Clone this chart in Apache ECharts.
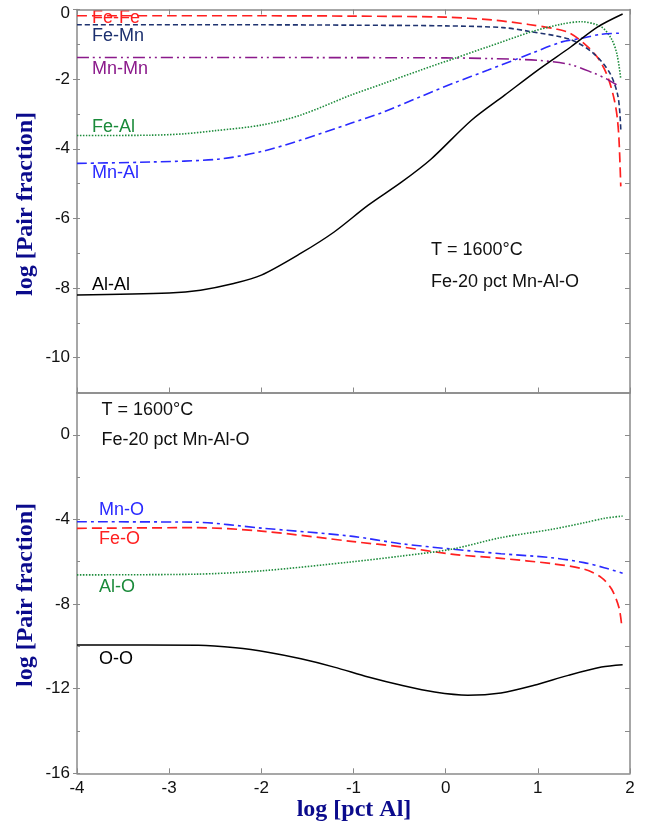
<!DOCTYPE html>
<html>
<head>
<meta charset="utf-8">
<script src="https://cdn.jsdelivr.net/npm/echarts@6/dist/echarts.min.js"></script>
<style>html,body{margin:0;padding:0;background:#fff}#c{width:647px;height:831px}</style>
</head>
<body>
<div id="c"></div>
<script>
// ---- Top panel data (log pct Al vs log pair fraction) ----
const feFeX = [-4, -3, -2, -1, 0, 0.5, 0.9, 1.2, 1.35, 1.5, 1.64, 1.72, 1.78, 1.83, 1.86, 1.88, 1.9];
const feFeY = [-0.18, -0.18, -0.18, -0.19, -0.22, -0.3, -0.43, -0.56, -0.68, -0.97, -1.35, -1.7, -2.1, -2.6, -3.07, -3.7, -5.08];
const feMnX = [-4, -2, -1, 0, 0.62, 0.91, 1.35, 1.6, 1.78, 1.87, 1.9];
const feMnY = [-0.44, -0.44, -0.45, -0.47, -0.52, -0.63, -0.86, -1.25, -1.82, -2.5, -3.45];
const mnMnX = [-4, -2, 0, 0.5, 1.0, 1.35, 1.6, 1.75, 1.89];
const mnMnY = [-1.38, -1.38, -1.39, -1.41, -1.46, -1.58, -1.82, -2.0, -2.22];
const feAlX = [-4, -3.2, -2.84, -2.5, -2, -1.57, -1.03, -0.67, -0.27, 0.1, 0.46, 0.93, 1.26, 1.47, 1.69, 1.8, 1.86, 1.9];
const feAlY = [-3.62, -3.61, -3.57, -3.48, -3.32, -3.03, -2.46, -2.12, -1.74, -1.4, -1.07, -0.64, -0.42, -0.35, -0.5, -0.85, -1.3, -2.0];
const mnAlX = [-4, -3.2, -2.47, -2, -1.57, -1.03, -0.67, -0.27, 0.1, 0.46, 0.93, 1.26, 1.47, 1.69, 1.9];
const mnAlY = [-4.42, -4.38, -4.3, -4.08, -3.75, -3.27, -2.94, -2.5, -2.1, -1.74, -1.26, -0.93, -0.83, -0.71, -0.68];
const alAlX = [-4, -3, -2.66, -2.3, -2, -1.57, -1.21, -0.84, -0.48, -0.16, 0.28, 0.64, 1.0, 1.36, 1.65, 1.92];
const alAlY = [-8.2, -8.14, -8.06, -7.87, -7.63, -7.0, -6.39, -5.62, -4.96, -4.3, -3.18, -2.46, -1.74, -1.07, -0.5, -0.13];

// ---- Bottom panel data ----
const mnOX = [-4, -2.73, -2, -1.03, -0.48, 0.06, 0.6, 1.15, 1.5, 1.72, 1.92];
const mnOY = [-4.11, -4.13, -4.41, -4.79, -5.15, -5.4, -5.62, -5.81, -6.04, -6.28, -6.54];
const feOX = [-4, -2.73, -2, -1.0, -0.48, 0.06, 0.6, 1.15, 1.5, 1.69, 1.8, 1.88, 1.91];
const feOY = [-4.42, -4.39, -4.55, -5.05, -5.3, -5.64, -5.84, -6.09, -6.35, -6.75, -7.29, -8.16, -9.02];
const alOX = [-4, -2.73, -2, -1.03, -0.48, 0.06, 0.6, 1.15, 1.5, 1.72, 1.92];
const alOY = [-6.62, -6.59, -6.43, -6.01, -5.73, -5.41, -4.86, -4.47, -4.16, -3.95, -3.84];
const ooX = [-4, -2.68, -2.28, -1.93, -1.57, -1.21, -0.84, -0.48, -0.12, 0.24, 0.6, 0.96, 1.33, 1.69, 1.92];
const ooY = [-9.93, -9.95, -10.07, -10.28, -10.59, -10.98, -11.45, -11.84, -12.16, -12.31, -12.2, -11.84, -11.37, -10.98, -10.87];

// ---- Tick labels ----
const xTicks = [-4, -3, -2, -1, 0, 1, 2];
const topYLabels = [0, -2, -4, -6, -8, -10];
const topYMinor = [-1, -3, -5, -7, -9];
const topYRight = [-1, -2, -3, -4, -5, -6, -7, -8, -9, -10];
const botYLabels = [0, -4, -8, -12, -16];
const botYMinor = [2, -2, -6, -10, -14];
const botYRight = [0, -2, -4, -6, -8, -10, -12, -14];

const pts = (xs, ys) => xs.map((x, i) => [x, ys[i]]);
const AX = '#8a8a8a';
const LBL = '18px "Liberation Sans", Arial, sans-serif';

function xAx(grid, pos, labels, tickShow) {
  return {
    type: 'value', gridIndex: grid, position: pos, min: -4, max: 2, interval: 1,
    axisLine: {show: true, onZero: false, lineStyle: {color: AX, width: 1.5}},
    axisTick: {show: tickShow, inside: true, length: 5, lineStyle: {color: AX, width: 1}},
    axisLabel: {show: labels, margin: 7, color: '#111', fontSize: 17, fontFamily: '"Liberation Sans", Arial'},
    splitLine: {show: false}
  };
}
function yAx(grid, pos, min, max, labelVals, tickVals, inside, len, showLine, topShift) {
  const lab = {show: !!labelVals, customValues: labelVals || [], margin: 7, color: '#111', fontSize: 17, fontFamily: '"Liberation Sans", Arial'};
  if (topShift) {
    lab.formatter = v => (v === max ? '{t|' + v + '}' : String(v));
    lab.rich = {t: {padding: [7, 0, 0, 0], color: '#111', fontSize: 17, fontFamily: '"Liberation Sans", Arial'}};
  }
  return {
    type: 'value', gridIndex: grid, position: pos, min: min, max: max,
    axisLine: {show: showLine, onZero: false, lineStyle: {color: AX, width: 1.5}},
    axisTick: {show: true, inside: inside, length: len, customValues: tickVals, lineStyle: {color: AX, width: 1}},
    axisLabel: lab,
    splitLine: {show: false}
  };
}
function line(name, xs, ys, xi, yi, color, type, width) {
  return {
    name: name, type: 'line', xAxisIndex: xi, yAxisIndex: yi, data: pts(xs, ys),
    showSymbol: false, smooth: 0.3, clip: true,
    lineStyle: {color: color, width: width || 1.6, type: type}
  };
}

const labelsTop = [
  {t: 'Fe-Fe', x: 92, y: 18, c: '#ff1f1f'},
  {t: 'Fe-Mn', x: 92, y: 36.5, c: '#1b2f6e'},
  {t: 'Mn-Mn', x: 92, y: 69, c: '#8b1a8b'},
  {t: 'Fe-Al', x: 92, y: 127, c: '#1a8a3a'},
  {t: 'Mn-Al', x: 92, y: 173.5, c: '#2a2aff'},
  {t: 'Al-Al', x: 92, y: 285, c: '#000'},
  {t: 'T = 1600°C', x: 431, y: 250.5, c: '#111'},
  {t: 'Fe-20 pct Mn-Al-O', x: 431, y: 282, c: '#111'},
  {t: 'T = 1600°C', x: 101.5, y: 410, c: '#111'},
  {t: 'Fe-20 pct Mn-Al-O', x: 101.5, y: 440.5, c: '#111'},
  {t: 'Mn-O', x: 99, y: 510, c: '#2a2aff'},
  {t: 'Fe-O', x: 99, y: 539.5, c: '#ff1f1f'},
  {t: 'Al-O', x: 99, y: 587, c: '#1a8a3a'},
  {t: 'O-O', x: 99, y: 659, c: '#000'}
];

const graphics = labelsTop.map(l => ({
  type: 'text', x: l.x, y: l.y, silent: true,
  style: {text: l.t, fill: l.c, font: LBL, textAlign: 'left', textVerticalAlign: 'middle'}
}));
const TITLE = 'bold 24px "Liberation Serif", "Times New Roman", serif';
graphics.push({type: 'text', x: 26, y: 204, rotation: Math.PI / 2, silent: true,
  style: {text: 'log [Pair fraction]', fill: '#0b0b8c', font: TITLE, textAlign: 'center', textVerticalAlign: 'middle'}});
graphics.push({type: 'text', x: 26, y: 595, rotation: Math.PI / 2, silent: true,
  style: {text: 'log [Pair fraction]', fill: '#0b0b8c', font: TITLE, textAlign: 'center', textVerticalAlign: 'middle'}});
graphics.push({type: 'text', x: 354, y: 810, silent: true,
  style: {text: 'log [pct Al]', fill: '#0b0b8c', font: TITLE, textAlign: 'center', textVerticalAlign: 'middle'}});

const chart = echarts.init(document.getElementById('c'), null, {renderer: 'canvas'});
chart.setOption({
  animation: false,
  backgroundColor: '#fff',
  grid: [
    {left: 77, right: 17, top: 9.5, height: 383},
    {left: 77, right: 17, top: 392.5, height: 380.8}
  ],
  xAxis: [
    xAx(0, 'bottom', false, true),
    xAx(0, 'top', false, true),
    xAx(1, 'bottom', true, true),
    xAx(1, 'top', false, false)
  ],
  yAxis: [
    yAx(0, 'left', -11, 0, topYLabels, topYLabels, false, 4, true, true),
    yAx(0, 'left', -11, 0, null, topYLabels.concat(topYMinor), true, 3, false),
    yAx(0, 'right', -11, 0, null, topYRight, true, 5, true),
    yAx(1, 'left', -16, 2, botYLabels, botYLabels, false, 4, true),
    yAx(1, 'left', -16, 2, null, botYLabels.concat(botYMinor), true, 3, false),
    yAx(1, 'right', -16, 2, null, botYRight, true, 5, true)
  ],
  series: [
    line('Fe-Fe', feFeX, feFeY, 0, 0, '#ff2020', [10, 5], 1.7),
    line('Fe-Mn', feMnX, feMnY, 0, 0, '#1f3370', [5, 3], 1.6),
    line('Mn-Mn', mnMnX, mnMnY, 0, 0, '#8b1a8b', [12, 4, 2, 4, 2, 4], 1.6),
    line('Fe-Al', feAlX, feAlY, 0, 0, '#1e8c3c', [1.5, 1.5], 1.6),
    line('Mn-Al', mnAlX, mnAlY, 0, 0, '#2a2aff', [10, 4, 3, 4], 1.6),
    line('Al-Al', alAlX, alAlY, 0, 0, '#000000', 'solid', 1.5),
    line('Mn-O', mnOX, mnOY, 2, 3, '#2a2aff', [10, 4, 3, 4], 1.6),
    line('Fe-O', feOX, feOY, 2, 3, '#ff2020', [10, 5], 1.7),
    line('Al-O', alOX, alOY, 2, 3, '#1e8c3c', [1.5, 1.5], 1.6),
    line('O-O', ooX, ooY, 2, 3, '#000000', 'solid', 1.5)
  ],
  graphic: graphics
});
</script>
</body>
</html>
